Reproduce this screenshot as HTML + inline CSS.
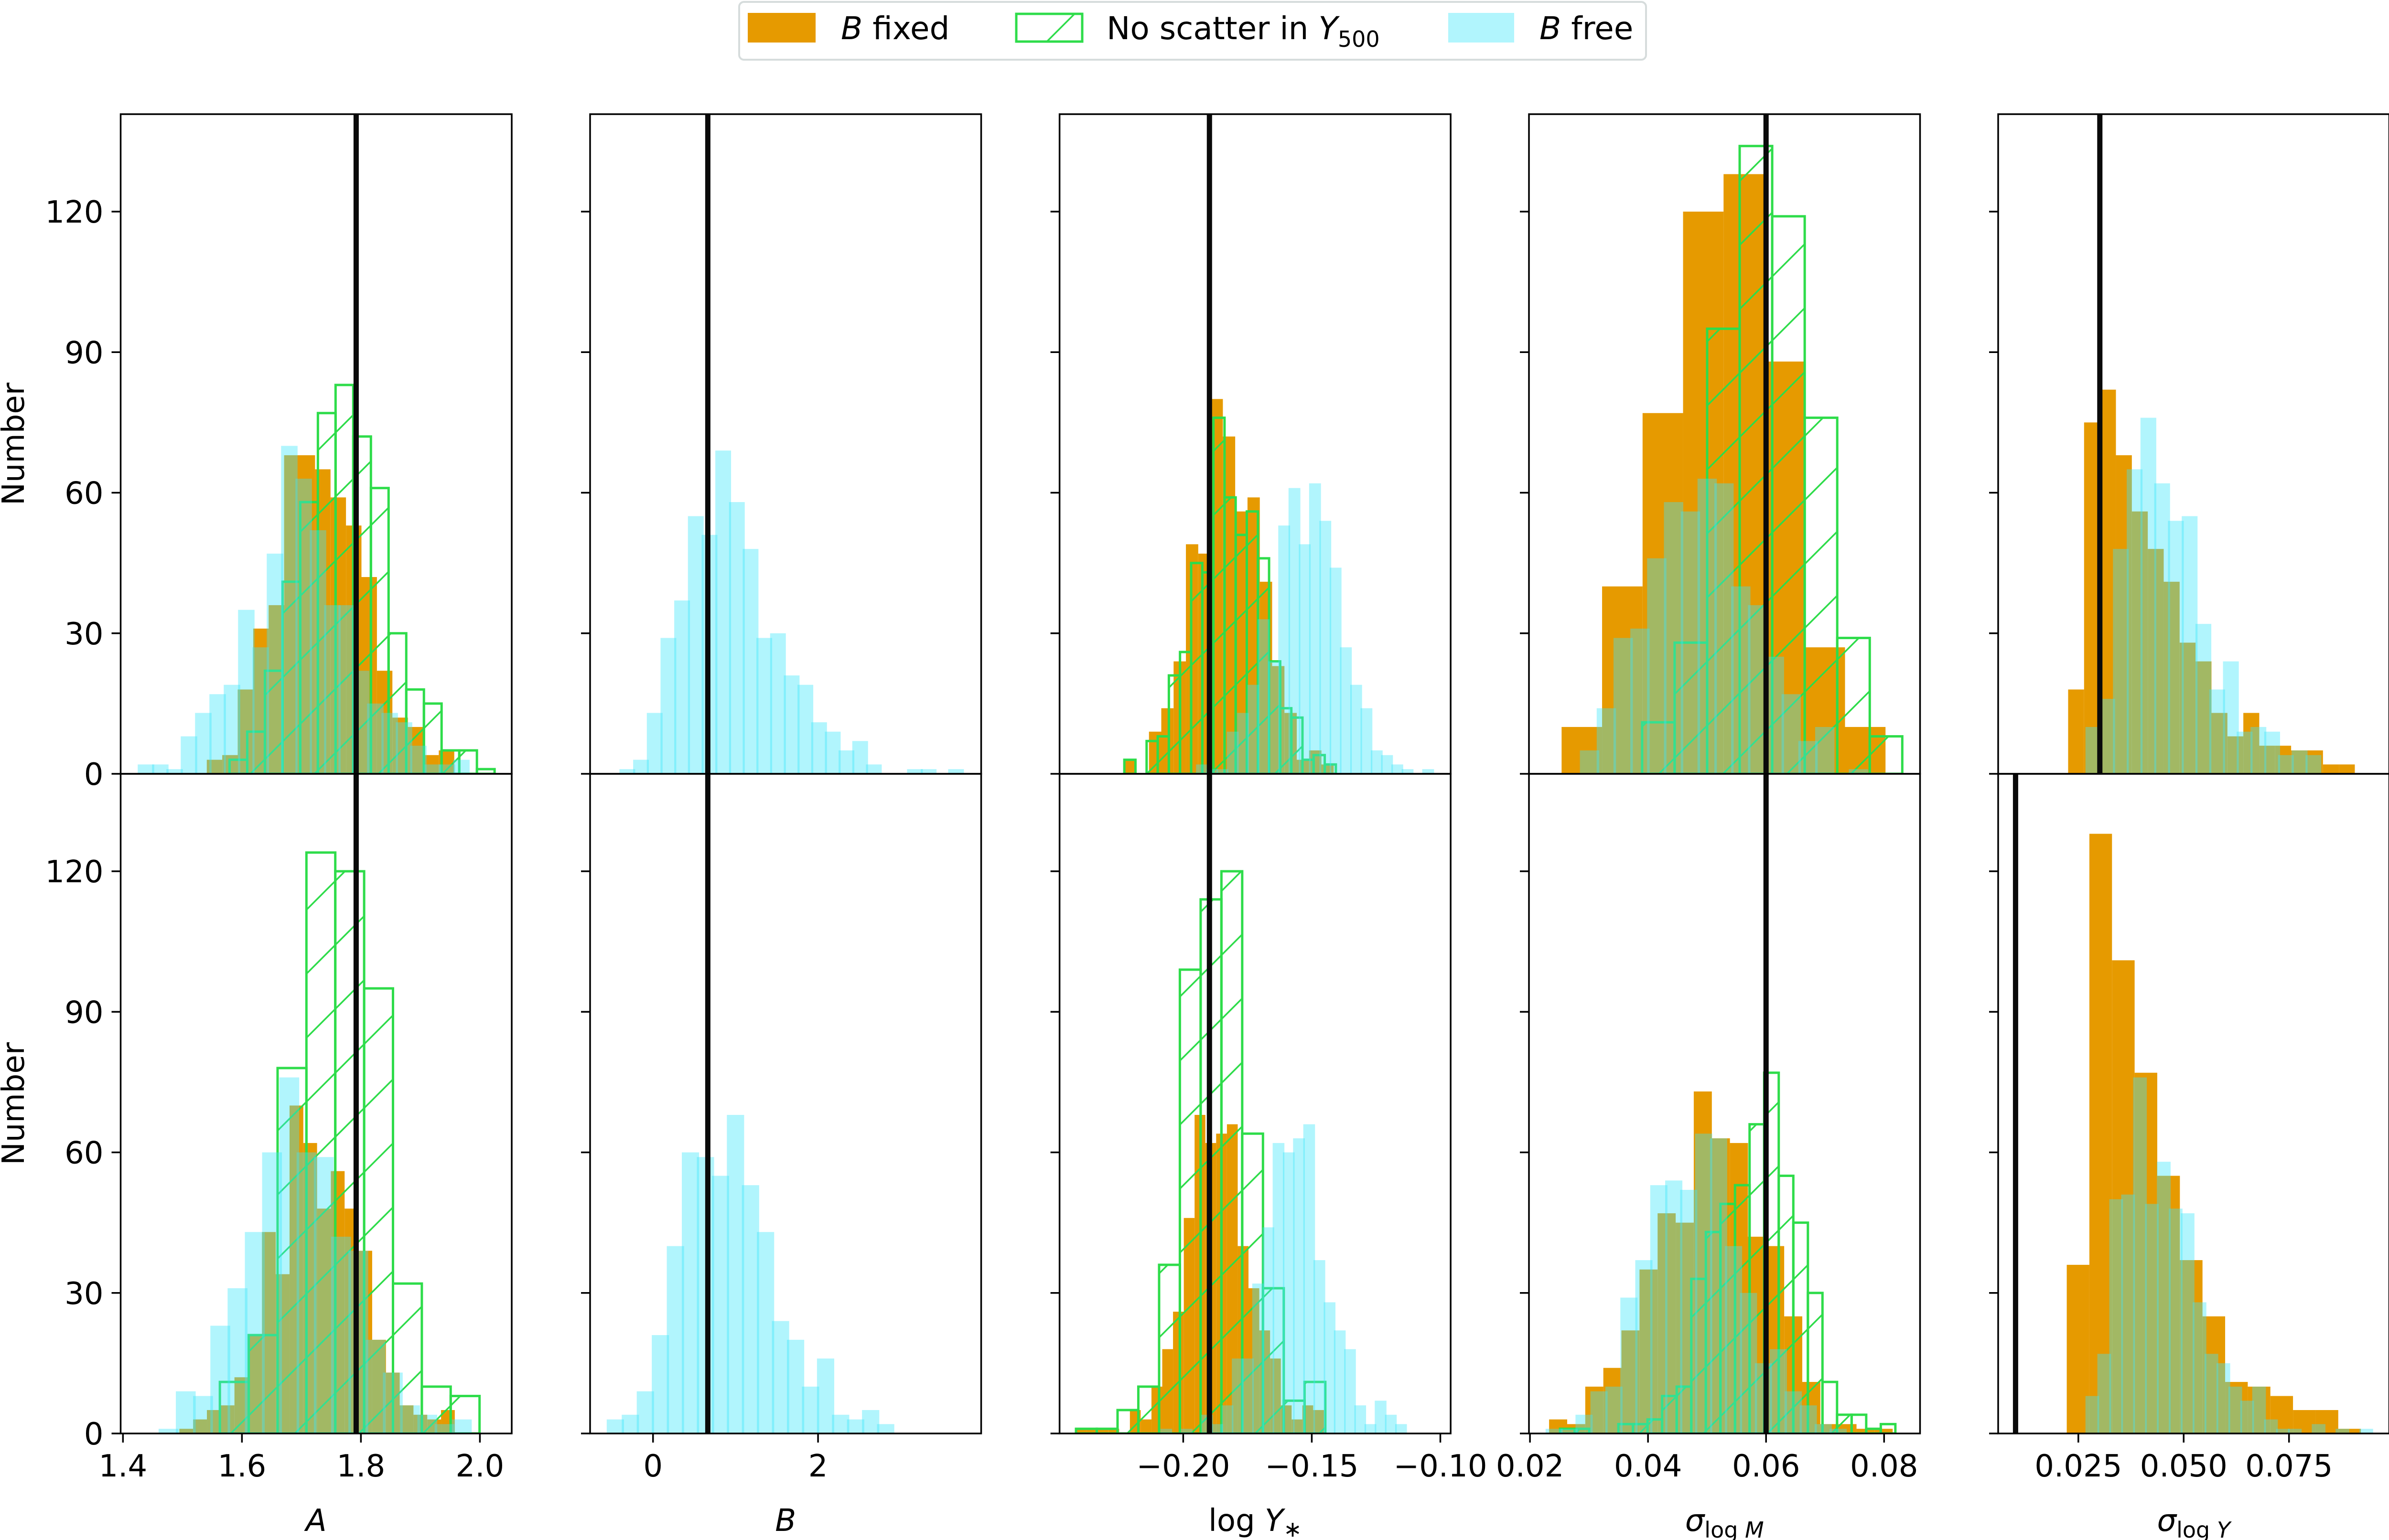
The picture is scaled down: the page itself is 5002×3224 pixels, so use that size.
<!DOCTYPE html>
<html><head><meta charset="utf-8">
<style>
html,body{margin:0;padding:0;background:#fff;}
svg{display:block;font-family:"DejaVu Sans","Liberation Sans",sans-serif;}
</style></head>
<body>
<svg id="fig" xmlns="http://www.w3.org/2000/svg" width="5002" height="3224" viewBox="0 0 5002 3224">
<defs>
<pattern id="hatch" patternUnits="userSpaceOnUse" width="134" height="134">
<path d="M0,134 L134,0 M-67,67 L67,-67 M67,201 L201,67" stroke="#2edc4a" stroke-width="3.5" fill="none"/>
</pattern>
</defs>
<g id="legend">
<rect x="1547" y="4" width="1898" height="121" rx="10" fill="#fff" stroke="#d6dcdc" stroke-width="4"/>
<g>
<rect x="1565" y="27" width="142" height="62" fill="#e69a00"/>
<text x="1760" y="82" font-size="66"><tspan font-style="italic">B</tspan> fixed</text>
</g>
<g>
<rect x="2127" y="29" width="138" height="58" fill="url(#hatch)" stroke="#2edc4a" stroke-width="5"/>
<text x="2316" y="82" font-size="66">No scatter in <tspan font-style="italic">Y</tspan><tspan font-size="46" dy="16">500</tspan></text>
</g>
<g>
<rect x="3031" y="27" width="138" height="62" fill="rgba(60,230,250,0.4)"/>
<text x="3222" y="82" font-size="66"><tspan font-style="italic">B</tspan> free</text>
</g>
</g>
<g id="plots"></g>
</svg>
<script>
// ---- axis domains (data units) ----
const xMin = [1.3961, -0.7627, -0.24809, 0.01983, 0.00597];
const xMax = [2.0535, 3.977, -0.09599, 0.08609, 0.09879];
const yMax = 140.8;
const yTicks = [0, 30, 60, 90, 120];
const xTickVals = [[1.4, 1.6, 1.8, 2.0], [0, 2], [-0.20, -0.15, -0.10], [0.02, 0.04, 0.06, 0.08], [0.025, 0.050, 0.075]];
const xTickLabels = [["1.4", "1.6", "1.8", "2.0"], ["0", "2"], ["\u22120.20", "\u22120.15", "\u22120.10"], ["0.02", "0.04", "0.06", "0.08"], ["0.025", "0.050", "0.075"]];
const truthTop = [1.792, 0.664, -0.1898, 0.06, 0.0301];
const truthBottom = [1.792, 0.664, -0.1898, 0.06, 0.0101];

// ---- top row: B fixed ----
const fixedTopStart = [1.5409, null, -0.2229, 0.02536, 0.02258];
const fixedTopWidth = [0.0260, null, 0.00479, 0.00686, 0.00378];
const fixedTopCounts = [
  [3,4,18,31,36,68,68,65,59,53,42,22,12,10,4,5],
  null,
  [3,0,9,14,24,49,47,80,72,56,59,41,23,13,3,5,2],
  [10,40,77,120,128,88,27,10],
  [18,75,82,68,56,48,41,28,24,13,8,13,6,6,5,5,2,2]
];
// ---- top row: no scatter ----
const noScatTopStart = [1.5792, null, -0.2229, 0.0390, null];
const noScatTopWidth = [0.0297, null, 0.00433, 0.00551, null];
const noScatTopCounts = [
  [3,9,22,41,58,77,83,72,61,30,18,15,5,5,1],
  null,
  [3,0,7,8,21,26,45,43,76,59,51,56,46,24,14,12,3,4,2],
  [11,28,95,134,119,76,29,8],
  null
];
// ---- top row: B free ----
const freeTopStart = [1.4248, -0.407, -0.19504, 0.02846, 0.02669];
const freeTopWidth = [0.0241, 0.166, 0.00400, 0.002847, 0.003264];
const freeTopCounts = [
  [2,2,1,8,13,17,19,35,27,47,70,63,52,36,36,22,15,13,11,6,2,2,3],
  [1,3,13,29,37,55,51,69,58,48,29,30,21,19,11,9,5,7,2,0,0,1,1,0,1],
  [2,1,1,9,13,19,33,24,53,61,49,62,54,44,27,19,14,5,4,2,1,0,1],
  [5,14,29,31,46,58,56,63,62,40,36,25,17,7,10,0,1],
  [10,16,48,65,76,62,54,55,32,18,24,9,10,9,4,5,4]
];
// ---- bottom row: B fixed ----
const fixedBotStart = [1.4948, null, -0.2417, 0.02324, 0.02225];
const fixedBotWidth = [0.02315, null, 0.004193, 0.003064, 0.00537];
const fixedBotCounts = [
  [1,3,5,6,12,21,43,34,70,62,48,56,48,39,20,13,6,4,3,5],
  null,
  [1,1,1,1,0,5,3,10,18,26,46,68,62,64,66,40,31,22,16,6,3,6,5],
  [3,2,10,14,22,35,47,45,73,63,62,42,40,25,11,2,2,1,1],
  [36,128,101,77,55,37,25,11,10,8,5,5,1]
];
// ---- bottom row: no scatter ----
const noScatBotStart = [1.5629, null, -0.2417, 0.0251, null];
const noScatBotWidth = [0.0485, null, 0.00808, 0.00247, null];
const noScatBotCounts = [
  [11,21,78,124,120,95,32,10,8],
  null,
  [1,1,5,10,36,99,114,120,64,31,7,11],
  [1,1,0,0,2,2,3,8,10,33,43,49,53,66,77,55,45,30,11,4,4,1,2],
  null
];
// ---- bottom row: B free ----
const freeBotStart = [1.4599, -0.561, -0.20888, 0.02265, 0.02669];
const freeBotWidth = [0.0290, 0.182, 0.00397, 0.002532, 0.002827];
const freeBotCounts = [
  [1,9,8,23,31,43,60,76,60,59,42,39,20,13,6,4,2,3],
  [3,4,9,21,40,60,59,55,68,53,43,24,20,10,16,4,3,5,2],
  [1,0,1,0,4,2,6,16,16,32,44,62,60,63,66,37,28,22,18,6,2,7,4,2],
  [1,1,4,9,10,29,37,53,54,52,64,63,40,30,15,18,9,6,2,1],
  [8,17,50,51,76,49,58,48,47,28,17,15,10,7,10,3,1,1,0,2,0,1,0,1]
];
const xLabels = ["A", "B", "logY", "sigM", "sigY"];

// ---- layout ----
const NS = "http://www.w3.org/2000/svg";
const panelLeft = [252.5, 1235, 2217.6, 3200, 4182];
const panelW = 818.5;
const rowTop = [239, 1620];
const rowH = 1381;
const root = document.getElementById('plots');

function mk(tag, attrs, parent) {
  const e = document.createElementNS(NS, tag);
  for (const k in attrs) e.setAttribute(k, attrs[k]);
  parent.appendChild(e);
  return e;
}
function xScale(col, v) { return panelLeft[col] + (v - xMin[col]) / (xMax[col] - xMin[col]) * panelW; }
function yScale(row, c) { return rowTop[row] + rowH - c / yMax * rowH; }

function drawHist(g, row, col, start, width, counts, kind) {
  if (!counts) return;
  counts.forEach((c, i) => {
    if (c <= 0) return;
    const x0 = start + i * width;
    let xa = xScale(col, x0), xb = xScale(col, x0 + width);
    if (kind === 'free') { const ext = (xb - xa) * 0.15; xb += ext; }
    const ya = yScale(row, c), yb = yScale(row, 0);
    const r = mk('rect', {x: xa, y: ya, width: xb - xa, height: yb - ya}, g);
    if (kind === 'fixed') { r.setAttribute('fill', '#e69a00'); }
    else if (kind === 'noscat') { r.setAttribute('fill', 'url(#hatch)'); r.setAttribute('stroke', '#2edc4a'); r.setAttribute('stroke-width', '5'); }
    else { r.setAttribute('fill', 'rgba(60,230,250,0.4)'); }
    
    
  });
}

function xLabel(g, col, cx, y) {
  const t = mk('text', {x: cx, y: y, 'font-size': 64, 'text-anchor': 'middle'}, g);
  
  
  const k = xLabels[col];
  if (k === 'A' || k === 'B') { t.setAttribute('font-style', 'italic'); t.textContent = k; }
  else if (k === 'logY') {
    t.innerHTML = 'log <tspan font-style="italic">Y</tspan><tspan font-size="46" dy="12">\u2217</tspan>';
  } else if (k === 'sigM') {
    t.innerHTML = '<tspan font-style="italic">\u03c3</tspan><tspan font-size="46" dy="14">log </tspan><tspan font-size="46" font-style="italic">M</tspan>';
  } else {
    t.innerHTML = '<tspan font-style="italic">\u03c3</tspan><tspan font-size="46" dy="14">log </tspan><tspan font-size="46" font-style="italic">Y</tspan>';
  }
}

const sets = [
  [fixedTopStart, fixedTopWidth, fixedTopCounts, noScatTopStart, noScatTopWidth, noScatTopCounts, freeTopStart, freeTopWidth, freeTopCounts, truthTop],
  [fixedBotStart, fixedBotWidth, fixedBotCounts, noScatBotStart, noScatBotWidth, noScatBotCounts, freeBotStart, freeBotWidth, freeBotCounts, truthBottom]
];

for (let row = 0; row < 2; row++) {
  for (let col = 0; col < 5; col++) {
    const s = sets[row];
    const g = mk('g', {}, root);
    
    
    const clipId = 'clip' + row + col;
    const cp = mk('clipPath', {id: clipId}, g);
    mk('rect', {x: panelLeft[col], y: rowTop[row], width: panelW, height: rowH}, cp);
    const inner = mk('g', {'clip-path': 'url(#' + clipId + ')'}, g);
    drawHist(inner, row, col, s[0][col], s[1][col], s[2][col], 'fixed');
    drawHist(inner, row, col, s[3][col], s[4][col], s[5][col], 'noscat');
    drawHist(inner, row, col, s[6][col], s[7][col], s[8][col], 'free');
    const tx = xScale(col, s[9][col]);
    const vl = mk('line', {x1: tx, x2: tx, y1: rowTop[row], y2: rowTop[row] + rowH, stroke: '#0a0a0a', 'stroke-width': 11}, g);
    
    
    const fr = mk('rect', {x: panelLeft[col], y: rowTop[row], width: panelW, height: rowH, fill: 'none', stroke: '#000', 'stroke-width': 3.5}, g);
    
    
    yTicks.forEach(v => {
      const y = yScale(row, v);
      const tk = mk('line', {x1: panelLeft[col] - 19, x2: panelLeft[col], y1: y, y2: y, stroke: '#000', 'stroke-width': 3.5}, g);
      
      
      if (col === 0) {
        const lt = mk('text', {x: panelLeft[col] - 36, y: y + 23, 'font-size': 64, 'text-anchor': 'end'}, g);
        lt.textContent = String(v);
        
        
      }
    });
    if (col === 0) {
      const cy = rowTop[row] + rowH / 2;
      const yl = mk('text', {x: 0, y: 0, 'font-size': 64, 'text-anchor': 'middle', transform: 'translate(50,' + cy + ') rotate(-90)'}, g);
      yl.textContent = 'Number';
      
      
    }
    if (row === 1) {
      const base = rowTop[row] + rowH;
      xTickVals[col].forEach((v, i) => {
        const x = xScale(col, v);
        const tk = mk('line', {x1: x, x2: x, y1: base, y2: base + 19, stroke: '#000', 'stroke-width': 3.5}, g);
        
        
        const lt = mk('text', {x: x, y: base + 90, 'font-size': 64, 'text-anchor': 'middle'}, g);
        lt.textContent = xTickLabels[col][i];
        
        
      });
      xLabel(g, col, panelLeft[col] + panelW / 2, 3205);
    }
  }
}
</script>
</body></html>
